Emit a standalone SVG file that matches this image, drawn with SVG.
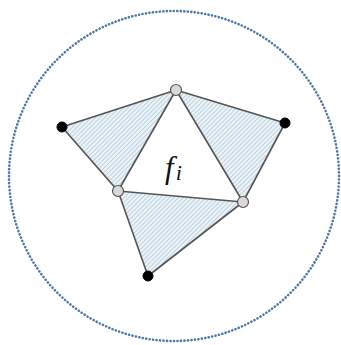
<svg xmlns="http://www.w3.org/2000/svg" width="341" height="345" viewBox="0 0 341 345">
<style>
.edge{stroke:#555;stroke-width:1.6;fill:none;stroke-linejoin:round}
.hatch{fill:url(#hatch);stroke:none}
.gray{fill:#d9d9d9;stroke:#555;stroke-width:1.2}
.black{fill:#000;stroke:#000;stroke-width:1}
.lbl{font-family:"Liberation Serif","DejaVu Serif",serif;font-style:italic;fill:#111}
</style>
<defs>
<pattern id="hatch" patternUnits="userSpaceOnUse" width="3.2" height="3.2" patternTransform="rotate(45)">
<rect width="3.2" height="3.2" fill="#eaf2f7"/>
<line x1="0" y1="0" x2="0" y2="3.2" stroke="#b2cbd9" stroke-width="1.5"/>
</pattern>
</defs>
<circle cx="174" cy="176" r="165" fill="none" stroke="#4f78a8" stroke-width="2.6" stroke-linecap="round" stroke-dasharray="0.1 3.4"/>
<g id="faces">
<polygon class="hatch" points="62,127 176,90 118,191"/>
<polygon class="hatch" points="176,90 285,123 243,202"/>
<polygon class="hatch" points="118,191 243,202 148,276"/>
</g>
<g id="connectors">
<line class="edge" x1="62" y1="127" x2="176" y2="90"/>
<line class="edge" x1="62" y1="127" x2="118" y2="191"/>
<line class="edge" x1="176" y1="90" x2="118" y2="191"/>
<line class="edge" x1="176" y1="90" x2="285" y2="123"/>
<line class="edge" x1="176" y1="90" x2="243" y2="202"/>
<line class="edge" x1="285" y1="123" x2="243" y2="202"/>
<line class="edge" x1="118" y1="191" x2="243" y2="202"/>
<line class="edge" x1="118" y1="191" x2="148" y2="276"/>
<line class="edge" x1="243" y1="202" x2="148" y2="276"/>
</g>
<g id="n-left-black"><circle class="black" cx="62" cy="127" r="5"/></g>
<g id="n-right-black"><circle class="black" cx="285" cy="123" r="5"/></g>
<g id="n-bottom-black"><circle class="black" cx="148" cy="276" r="5"/></g>
<g id="n-top"><circle class="gray" cx="176" cy="90" r="5.5"/></g>
<g id="n-left"><circle class="gray" cx="118" cy="191" r="5.5"/></g>
<g id="n-right"><circle class="gray" cx="243" cy="202" r="5.5"/></g>
<g id="label"><text class="lbl" x="165" y="178" font-size="31">f<tspan font-size="22" dy="2" dx="2">i</tspan></text></g>
</svg>
